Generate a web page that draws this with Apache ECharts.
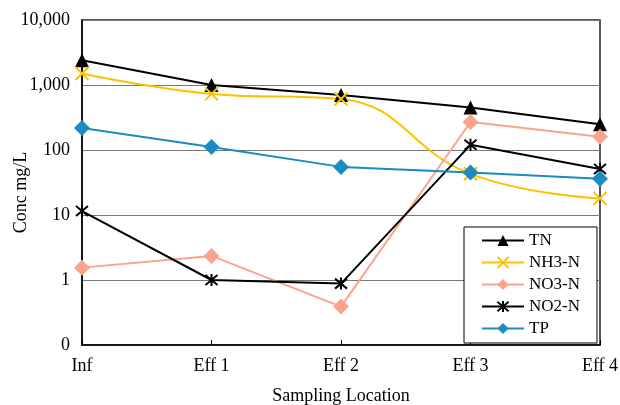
<!DOCTYPE html>
<html><head><meta charset="utf-8">
<script src="https://cdn.jsdelivr.net/npm/echarts@6/dist/echarts.min.js"></script>
<style>html,body{margin:0;padding:0;background:#fff}#c{width:620px;height:405px}</style>
</head><body><div id="c"></div>
<script>
const categories = ['Inf', 'Eff 1', 'Eff 2', 'Eff 3', 'Eff 4'];
const TN   = [2400, 1000, 700, 450, 250];
const NH3N = [1500, 730, 610, 43, 18];
const NO3N = [1.55, 2.35, 0.39, 270, 160];
const NO2N = [11.5, 1.0, 0.88, 120, 51];
const TP   = [218, 111, 55, 45, 36];
const yTicks = [0.1, 1, 10, 100, 1000, 10000];

const FONT = 'Liberation Serif';
const xPath = 'path://M0,0L10,10M10,0L0,10';
const starPath = 'path://M0,0L10,10M10,0L0,10M5,-1L5,11';

function mk(name, data, color, symbol, size, smooth, stroke) {
  return {
    name, type: 'line', data, smooth: smooth || false,
    symbol, symbolSize: size, showSymbol: true,
    lineStyle: { color, width: 2 },
    itemStyle: stroke ? { color: 'none', borderColor: color, borderWidth: 2 } : { color, borderWidth: 0 },
    emphasis: { disabled: true }
  };
}

const chart = echarts.init(document.getElementById('c'), null, { renderer: 'canvas' });
chart.setOption({
  animation: false,
  backgroundColor: '#fff',
  grid: { left: 82, right: 20, top: 20, bottom: 60, outerBoundsMode: 'none', containLabel: false,
    show: true, borderColor: '#222', borderWidth: 1.5, backgroundColor: 'transparent' },
  legend: {
    orient: 'vertical', left: 464, top: 227,
    backgroundColor: '#fff', borderColor: '#000', borderWidth: 1,
    padding: [5, 6, 6, 17], itemGap: 5, itemWidth: 42, itemHeight: 14,
    textStyle: { fontFamily: FONT, fontSize: 17, lineHeight: 17, color: '#000', width: 62 },
    data: ['TN', 'NH3-N', 'NO3-N', 'NO2-N', 'TP']
  },
  xAxis: {
    type: 'category', data: categories, boundaryGap: false,
    name: 'Sampling Location', nameLocation: 'middle', nameGap: 42,
    nameTextStyle: { fontFamily: FONT, fontSize: 18, color: '#000' },
    axisLine: { lineStyle: { color: '#000', width: 1.5 } },
    axisTick: { inside: true, length: 5, lineStyle: { color: '#000' } },
    axisLabel: { fontFamily: FONT, fontSize: 18, color: '#000', margin: 12 },
    splitLine: { show: false }
  },
  yAxis: {
    type: 'log', logBase: 10, min: yTicks[0], max: yTicks[yTicks.length - 1],
    name: 'Conc mg/L', nameLocation: 'middle', nameGap: 52, nameMoveOverlap: false,
    nameTextStyle: { fontFamily: FONT, fontSize: 18, color: '#000', padding: [0, 20, 0, 0] },
    axisLine: { show: true, lineStyle: { color: '#000', width: 1.5 } },
    axisTick: { show: false },
    axisLabel: {
      fontFamily: FONT, fontSize: 18, color: '#000', margin: 12,
      formatter: v => v < 1 ? '0' : Math.round(v).toLocaleString('en-US')
    },
    splitLine: { show: true, lineStyle: { color: '#777', width: 1 } }
  },
  series: [
    mk('TN', TN, '#000000', 'triangle', 14),
    mk('NH3-N', NH3N, '#FFC000', xPath, 13, 0.45, true),
    mk('NO3-N', NO3N, '#FBA38B', 'diamond', 16),
    mk('NO2-N', NO2N, '#000000', starPath, 12, false, true),
    mk('TP', TP, '#1B8BC4', 'diamond', 16)
  ]
});
</script></body></html>
